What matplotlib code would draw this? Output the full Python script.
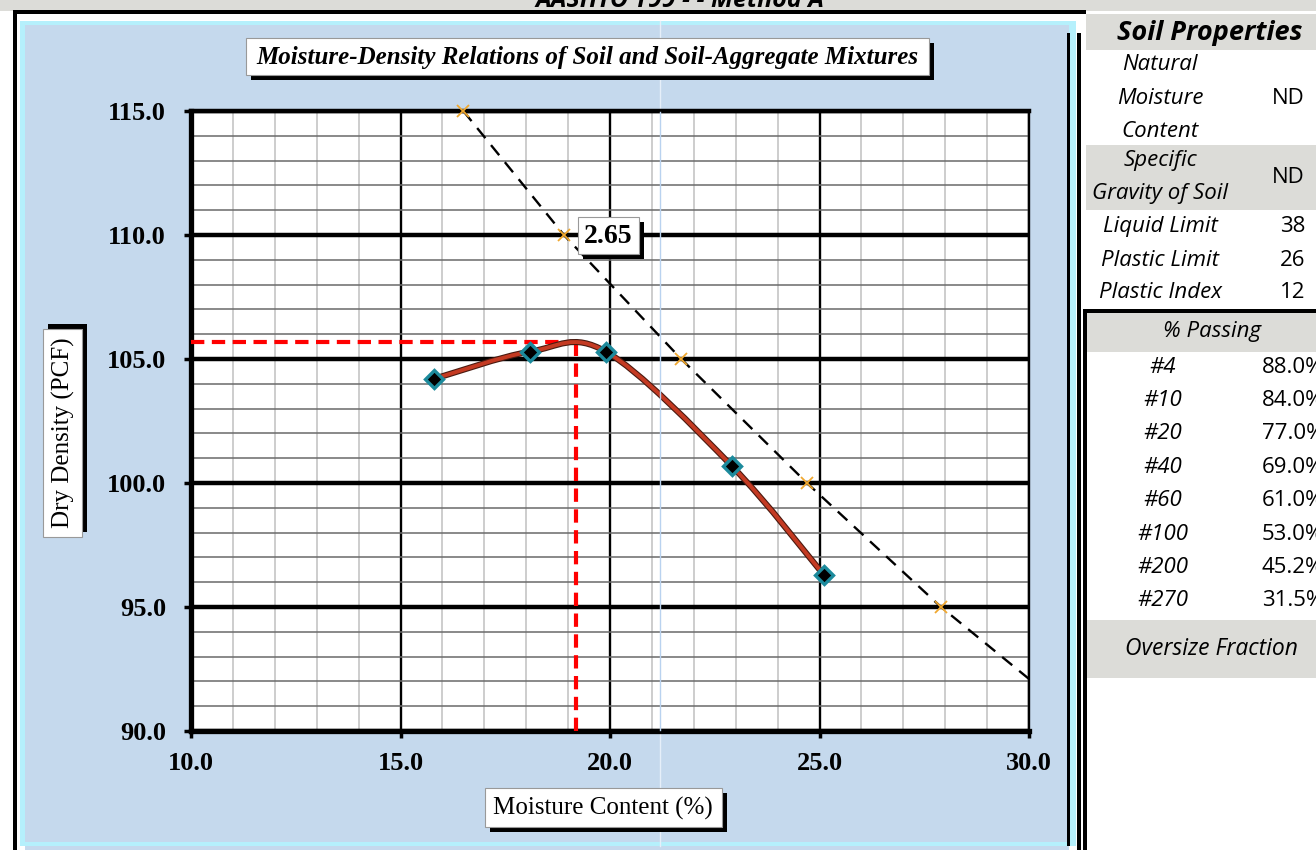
import matplotlib.pyplot as plt
import numpy as np
from matplotlib.patches import Rectangle, PathPatch
from matplotlib.path import Path
import matplotlib.patheffects as pe

# proctor test points
moisture = [15.8, 18.1, 19.9, 22.9, 25.1]
density = [104.2, 105.3, 105.3, 100.7, 96.3]

# optimum moisture / max dry density
opt_moisture = 19.2
max_density = 105.7

# zero air voids line, Gs = 2.65
specific_gravity = 2.65
zav_moisture = [16.5, 18.9, 21.7, 24.7, 27.9, 30.0]
zav_density = [115.0, 110.0, 105.0, 100.0, 95.0, 92.1]
zav_marked = 5

x_ticks = [10.0, 15.0, 20.0, 25.0, 30.0]
y_ticks = [90.0, 95.0, 100.0, 105.0, 110.0, 115.0]

# soil properties table
prop_labels = [["Natural", "Moisture", "Content"], ["Specific", "Gravity of Soil"],
               ["Liquid Limit"], ["Plastic Limit"], ["Plastic Index"]]
prop_values = ["ND", "ND", "38", "26", "12"]
sieves = ["#4", "#10", "#20", "#40", "#60", "#100", "#200", "#270"]
passing = [88.0, 84.0, 77.0, 69.0, 61.0, 53.0, 45.2, 31.5]

W, H = 1316, 850
TFS = 16  # table font size
fig = plt.figure(figsize=(W / 100, H / 100), dpi=100)
fig.patch.set_facecolor('white')

bg = fig.add_axes([0, 0, 1, 1], zorder=0)
bg.set_xlim(0, W)
bg.set_ylim(H, 0)
bg.axis('off')

fg = fig.add_axes([0, 0, 1, 1], zorder=5)
fg.set_xlim(0, W)
fg.set_ylim(H, 0)
fg.axis('off')
fg.patch.set_alpha(0)


def rect(a, x0, y0, x1, y1, **kw):
    a.add_patch(Rectangle((x0, y0), x1 - x0, y1 - y0, **kw))


def label_box(a, x0, y0, x1, y1, dx=5, dy=5):
    rect(a, x0 + dx, y0 + dy, x1 + dx, y1 + dy, facecolor='black', lw=0)
    rect(a, x0, y0, x1, y1, facecolor='white', edgecolor='#999999', lw=0.8)


# frame pieces
rect(bg, 0, 0, W, 11, facecolor='#dcdcd8', lw=0)
bg.text(680, 7, "AASHTO T99 - - Method A", ha='center', va='baseline',
        fontsize=18, fontweight='bold', fontstyle='italic', family='Open Sans')
rect(bg, 13, 10, 1086, 14, facecolor='black', lw=0)
rect(bg, 13, 10, 17, H, facecolor='black', lw=0)
rect(bg, 20, 21, 1076, 846, facecolor='#b5f0fc', lw=0)
rect(bg, 25, 25, 1069, 842, facecolor='#c5d9ed', lw=0)
rect(bg, 25, 846, 1069, H, facecolor='#c5d9ed', lw=0)
rect(bg, 1067, 33, 1070, 846, facecolor='black', lw=0)
rect(bg, 1077, 33, 1081, H, facecolor='black', lw=0)
bg.plot([660, 660], [21, 846], color='#e6eff9', lw=1)

# table
tx, vx = 1160, 1305
rect(bg, 1086, 14, W, 50, facecolor='#dcdcd8', lw=0)
bg.text(1210, 33, "Soil Properties", ha='center', va='center', fontsize=19.5,
        fontweight='bold', fontstyle='italic', family='Open Sans')
rect(bg, 1086, 145, W, 210, facecolor='#dcdcd8', lw=0)
row_y = [[64, 98, 131], [160, 193], [226], [260], [293]]
val_y = [98, 177, 226, 260, 293]
for labs, ys, v, vy in zip(prop_labels, row_y, prop_values, val_y):
    for lab, yy in zip(labs, ys):
        bg.text(tx, yy, lab, ha='center', va='center', fontsize=TFS,
                fontstyle='italic', family='Open Sans')
    bg.text(vx, vy, v, ha='right', va='center', fontsize=TFS, family='Open Sans')

rect(bg, 1083, 309, W, 313, facecolor='black', lw=0)
rect(bg, 1083, 309, 1087, H, facecolor='black', lw=0)
rect(bg, 1087, 313, W, 352, facecolor='#dcdcd8', lw=0)
bg.text(1212, 331, "% Passing", ha='center', va='center', fontsize=TFS,
        fontstyle='italic', family='Open Sans')
for i, (s, p) in enumerate(zip(sieves, passing)):
    yy = 367 + i * 33.4
    bg.text(1163, yy, s, ha='center', va='center', fontsize=TFS,
            fontstyle='italic', family='Open Sans')
    bg.text(1262, yy, f"{p:.1f}%", ha='left', va='center', fontsize=TFS,
            family='Open Sans')
rect(bg, 1087, 620, W, 678, facecolor='#dcdcd8', lw=0)
bg.text(1211, 649, "Oversize Fraction", ha='center', va='center', fontsize=TFS + 0.5,
        fontstyle='italic', family='Open Sans')

# chart
ax = fig.add_axes([191 / W, 1 - 731 / H, (1029 - 191) / W, (731 - 111) / H], zorder=2)
ax.set_facecolor('white')
ax.set_xlim(10, 30)
ax.set_ylim(90, 115)
ax.set_axisbelow(True)

ax.set_xticks(x_ticks)
ax.set_xticklabels([f"{v:.1f}" for v in x_ticks])
ax.set_yticks(y_ticks)
ax.set_yticklabels([f"{v:.1f}" for v in y_ticks])
ax.set_xticks(np.arange(10, 31, 1), minor=True)
ax.set_yticks(np.arange(90, 116, 1), minor=True)
ax.tick_params(which='major', direction='out', length=5, width=2.5, pad=10,
               labelsize=19)
ax.tick_params(axis='y', which='major', pad=13)
ax.tick_params(which='minor', length=0)
for lab in ax.get_xticklabels() + ax.get_yticklabels():
    lab.set_family('Liberation Serif')
    lab.set_fontweight('bold')

ax.grid(True, axis='x', which='minor', color='#c0c0c0', lw=1.1)
ax.grid(True, axis='y', which='minor', color='#6a6a6a', lw=1.1)
ax.grid(True, axis='x', which='major', color='black', lw=1.7)
ax.grid(True, axis='y', which='major', color='black', lw=3.2)

for side, w in [('left', 3.8), ('bottom', 3.8), ('top', 3.2), ('right', 1.7)]:
    ax.spines[side].set_linewidth(w)
    ax.spines[side].set_color('black')

# zero air voids
ax.plot(zav_moisture, zav_density, color='black', lw=1.7, dashes=(5.5, 3.8), zorder=3)
ax.plot(zav_moisture[:zav_marked], zav_density[:zav_marked], 'x', color='#f0a830',
        ms=9, mew=1.3, zorder=4, clip_on=False)

# optimum lines
ax.plot([10, opt_moisture], [max_density, max_density], color='#ff0000', lw=3,
        dashes=(3.2, 1.8), zorder=3)
ax.plot([opt_moisture, opt_moisture], [90, max_density], color='#ff0000', lw=3,
        dashes=(3.2, 1.8), zorder=3)

# smoothed curve (Excel-style bezier through points)
pts = np.column_stack([moisture, density])
prev = np.vstack([pts[:1], pts[:-1]])
nxt = np.vstack([pts[1:], pts[-1:]])
tan = (nxt - prev) / 6
verts = [pts[0]]
codes = [Path.MOVETO]
for i in range(len(pts) - 1):
    verts += [pts[i] + tan[i], pts[i + 1] - tan[i + 1], pts[i + 1]]
    codes += [Path.CURVE4] * 3
curve = PathPatch(Path(verts, codes), facecolor='none', edgecolor='#c43a22', lw=2.8,
                  zorder=5, path_effects=[pe.Stroke(linewidth=4.4, foreground='#4a1a10'),
                                          pe.Normal()])
ax.add_patch(curve)
ax.plot(moisture, density, 'D', ms=9.5, mfc='black', mec='#1c8a9c', mew=2.4, zorder=6)

# label boxes
label_box(fg, 246, 38, 929, 75)
fg.text(587, 57, "Moisture-Density Relations of Soil and Soil-Aggregate Mixtures",
        ha='center', va='center', fontsize=18, fontweight='bold', fontstyle='italic',
        family='Liberation Serif')
label_box(fg, 43, 329, 82, 537, dx=5, dy=-5)
fg.text(63, 433, "Dry Density (PCF)", rotation=90, ha='center', va='center',
        fontsize=18, family='Liberation Serif')
label_box(fg, 485, 788, 722, 827)
fg.text(603, 808, "Moisture Content (%)", ha='center', va='center', fontsize=18,
        family='Liberation Serif')
label_box(fg, 578, 217, 639, 254)
fg.text(608, 236, f"{specific_gravity:.2f}", ha='center', va='center', fontsize=20,
        fontweight='bold', family='Liberation Serif')
fg.plot([660, 660], [112, 730], color='#b9d2ef', lw=1)

fig.savefig('out.png', dpi=100)
